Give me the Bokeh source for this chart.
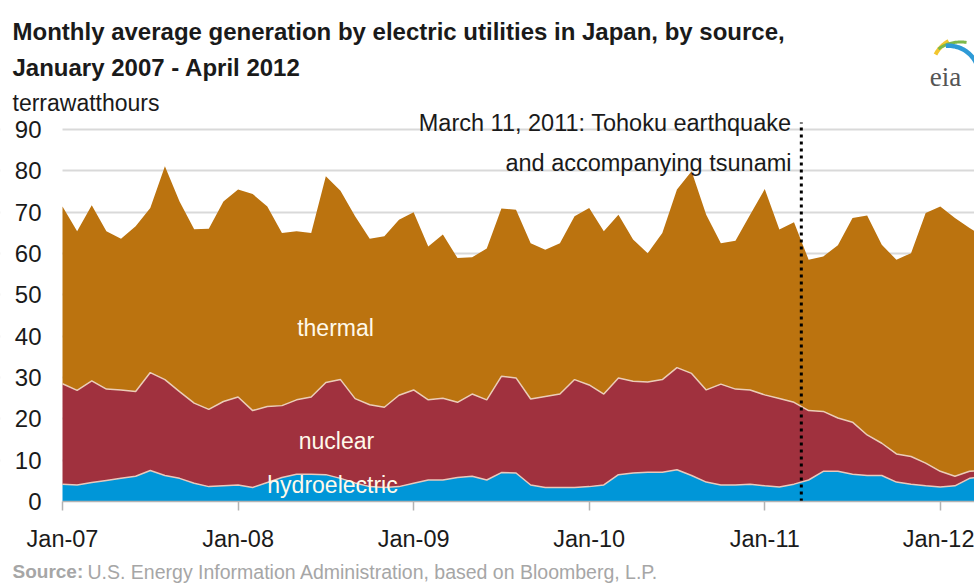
import numpy as np
from bokeh.plotting import figure
from bokeh.models import Range1d, FixedTicker, Label, PolyAnnotation, BoxAnnotation, ColumnDataSource
from bokeh.embed import file_html
from bokeh.resources import INLINE

# ---------------- data (terawatthours, Jan 2007 - Apr 2012) ----------------
tick_months = [0, 12, 24, 36, 48, 60]
tick_labels = ["Jan-07", "Jan-08", "Jan-09", "Jan-10", "Jan-11", "Jan-12"]
y_ticks = [0, 10, 20, 30, 40, 50, 60, 70, 80, 90]

hydro = [4.2, 4.0, 4.6, 5.1, 5.6, 6.1, 7.5, 6.3, 5.6, 4.4, 3.6, 3.8,
         4.0, 3.4, 4.6, 5.8, 6.6, 6.6, 6.5, 5.6, 4.5, 3.6, 3.4, 3.6,
         4.4, 5.2, 5.2, 5.8, 6.1, 5.2, 7.0, 6.9, 4.0, 3.4, 3.4, 3.4,
         3.6, 4.0, 6.5, 6.9, 7.1, 7.1, 7.7, 6.3, 4.7, 4.0, 4.0, 4.2,
         3.8, 3.5, 4.2, 5.2, 7.3, 7.3, 6.6, 6.3, 6.3, 4.7, 4.2, 3.8,
         3.5, 3.8, 5.6, 6.1]
nuclear = [24.3, 22.9, 24.6, 22.1, 21.4, 20.5, 23.7, 23.2, 21.0, 19.4, 18.7, 20.4,
           21.3, 18.6, 18.4, 17.4, 18.0, 18.7, 22.3, 23.9, 20.4, 19.8, 19.4, 22.1,
           22.6, 19.4, 19.8, 18.2, 19.9, 19.4, 23.3, 23.0, 20.8, 22.0, 22.6, 26.1,
           24.6, 22.0, 23.4, 22.2, 21.8, 22.4, 24.7, 24.7, 22.3, 24.4, 23.2, 22.8,
           22.0, 21.4, 19.8, 16.8, 14.5, 12.9, 12.6, 9.8, 7.8, 6.8, 6.7, 5.5,
           3.8, 2.3, 1.7, 1.5]
thermal = [42.9, 38.5, 42.5, 38.2, 36.6, 40.0, 39.8, 51.6, 46.0, 42.1, 43.7, 48.4,
           50.2, 52.4, 48.4, 41.8, 40.8, 39.7, 49.9, 45.7, 44.1, 40.2, 41.4, 42.5,
           43.0, 37.1, 39.6, 34.9, 33.1, 36.6, 40.6, 40.7, 37.7, 35.5, 36.5, 39.5,
           42.8, 39.4, 39.5, 34.3, 31.2, 35.5, 43.1, 48.9, 42.4, 34.1, 35.9, 42.4,
           49.8, 40.9, 43.6, 36.5, 37.5, 41.8, 49.4, 53.1, 48.0, 47.0, 49.2, 60.5,
           64.1, 62.5, 58.9, 56.4]
months = list(range(len(hydro)))
earthquake_month = 50.5      # March 11, 2011
earthquake_line_top = 91.7

# ---------------- layout geometry (frame = whole canvas) ----------------
W, H = 974, 583
XS = 14.63      # px per month
YS = 4.1325     # px per TWh
ORIGIN_X, ORIGIN_Y = 62, 501   # picture px of (month 0, 0 TWh)
X0 = -ORIGIN_X / XS
X1 = X0 + W / XS
Y0 = -(H - ORIGIN_Y) / YS
Y1 = Y0 + H / YS

def px(xp):  # picture x -> data x
    return X0 + xp / XS

def py(yp):  # picture y -> data y
    return Y0 + (H - yp) / YS

SANS = "Liberation Sans"
TXT = "#1a1a1a"

p = figure(width=W, height=H, output_backend="svg", toolbar_location=None,
           x_range=Range1d(X0, X1), y_range=Range1d(Y0, Y1),
           min_border=0)
p.outline_line_color = None
p.background_fill_color = "white"

src = ColumnDataSource(dict(month=months, hydro=hydro, nuclear=nuclear, thermal=thermal))
p.varea_stack(stackers=["hydro", "nuclear", "thermal"], x="month",
              color=["#0096D8", "#A0313E", "#BB730F"], source=src)

cum1 = np.array(hydro)
cum2 = cum1 + np.array(nuclear)
p.line(months, cum1, line_color="#E9C9BC", line_width=1.5)
p.line(months, cum2, line_color="#EBCDB8", line_width=1.5)

# axes drawn at fixed locations inside the canvas
p.xaxis.fixed_location = 0
p.xaxis.bounds = (0, X1)
p.xaxis.ticker = FixedTicker(ticks=tick_months)
p.xaxis.major_label_overrides = {m: l for m, l in zip(tick_months, tick_labels)}
p.xaxis.minor_tick_line_color = None
p.xaxis.axis_line_color = "#b3b3b3"
p.xaxis.axis_line_width = 1.5
p.xaxis.major_tick_line_color = "#b3b3b3"
p.xaxis.major_tick_line_width = 1.5
p.xaxis.major_tick_in = 0
p.xaxis.major_tick_out = 9
p.xaxis.major_label_standoff = 15
p.xaxis.major_label_text_font = SANS
p.xaxis.major_label_text_font_size = "23.5px"
p.xaxis.major_label_text_color = TXT

p.yaxis.fixed_location = 0
p.yaxis.ticker = FixedTicker(ticks=y_ticks)
p.yaxis.axis_line_color = None
p.yaxis.major_tick_line_color = None
p.yaxis.minor_tick_line_color = None
p.yaxis.major_tick_in = 0
p.yaxis.major_tick_out = 0
p.yaxis.major_label_standoff = 21
p.yaxis.major_label_text_font = SANS
p.yaxis.major_label_text_font_size = "24px"
p.yaxis.major_label_text_color = TXT

p.xgrid.grid_line_color = None
p.ygrid.ticker = FixedTicker(ticks=y_ticks[1:])
p.ygrid.grid_line_color = "#d9d9d9"
p.ygrid.grid_line_width = 2
# hide grid lines left of the plotting area
p.add_layout(BoxAnnotation(right=0, fill_color="white", fill_alpha=1.0,
                           line_color=None, level="underlay"))

# earthquake marker
p.segment(x0=[earthquake_month], y0=[0], x1=[earthquake_month], y1=[earthquake_line_top],
          line_color="black", line_width=3, line_dash="3 4")

def label(text, xp, yp, size, align="left", baseline="alphabetic", bold=False,
          color=TXT, font=SANS):
    p.add_layout(Label(x=px(xp), y=py(yp), text=text, text_font=font,
                       text_font_size=f"{size}px", text_align=align,
                       text_baseline=baseline, text_color=color,
                       text_font_style="bold" if bold else "normal"))

# titles
label("Monthly average generation by electric utilities in Japan, by source,", 12, 31, 24, bold=True)
label("January 2007 - April 2012", 12, 67, 24, bold=True)
label("terrawatthours", 12, 102, 23)

# annotation
label("March 11, 2011: Tohoku earthquake", 791, 122, 23.5, align="right")
label("and accompanying tsunami", 791, 162, 23.5, align="right")

# in-chart labels
label("thermal", 335, 327, 23, align="center", baseline="middle", color="#FFF9EA")
label("nuclear", 336, 440, 23, align="center", baseline="middle", color="#FFF9EA")
label("hydroelectric", 332, 484, 23, align="center", baseline="middle", color="#FFF9EA")

# source
label("Source:", 12, 571, 19, bold=True, color="#a6a6a6")
label("U.S. Energy Information Administration, based on Bloomberg, L.P.", 87, 571, 19.5, color="#a6a6a6")

# eia logo
label("eia", 945, 76, 27, align="center", color="#555555", font="Liberation Serif")

def arc_poly(cx, cy, r_in, r_out, a0, a1, color):
    t = np.linspace(np.radians(a0), np.radians(a1), 30)
    xo = cx + r_out * np.cos(t); yo = cy - r_out * np.sin(t)
    xi = cx + r_in * np.cos(t[::-1]); yi = cy - r_in * np.sin(t[::-1])
    xs = [px(v) for v in np.concatenate([xo, xi])]
    ys = [py(v) for v in np.concatenate([yo, yi])]
    p.add_layout(PolyAnnotation(xs=xs, ys=ys, fill_color=color, fill_alpha=1.0,
                                line_color=None))

arc_poly(965, 70, 32, 36, 120, 152, "#F2C62F")
arc_poly(960, 80, 37, 40, 81, 125, "#7DB84A")
arc_poly(948, 76, 28.5, 33, 25, 95, "#2E9AD6")

open("out.html", "w").write(file_html(p, INLINE))
